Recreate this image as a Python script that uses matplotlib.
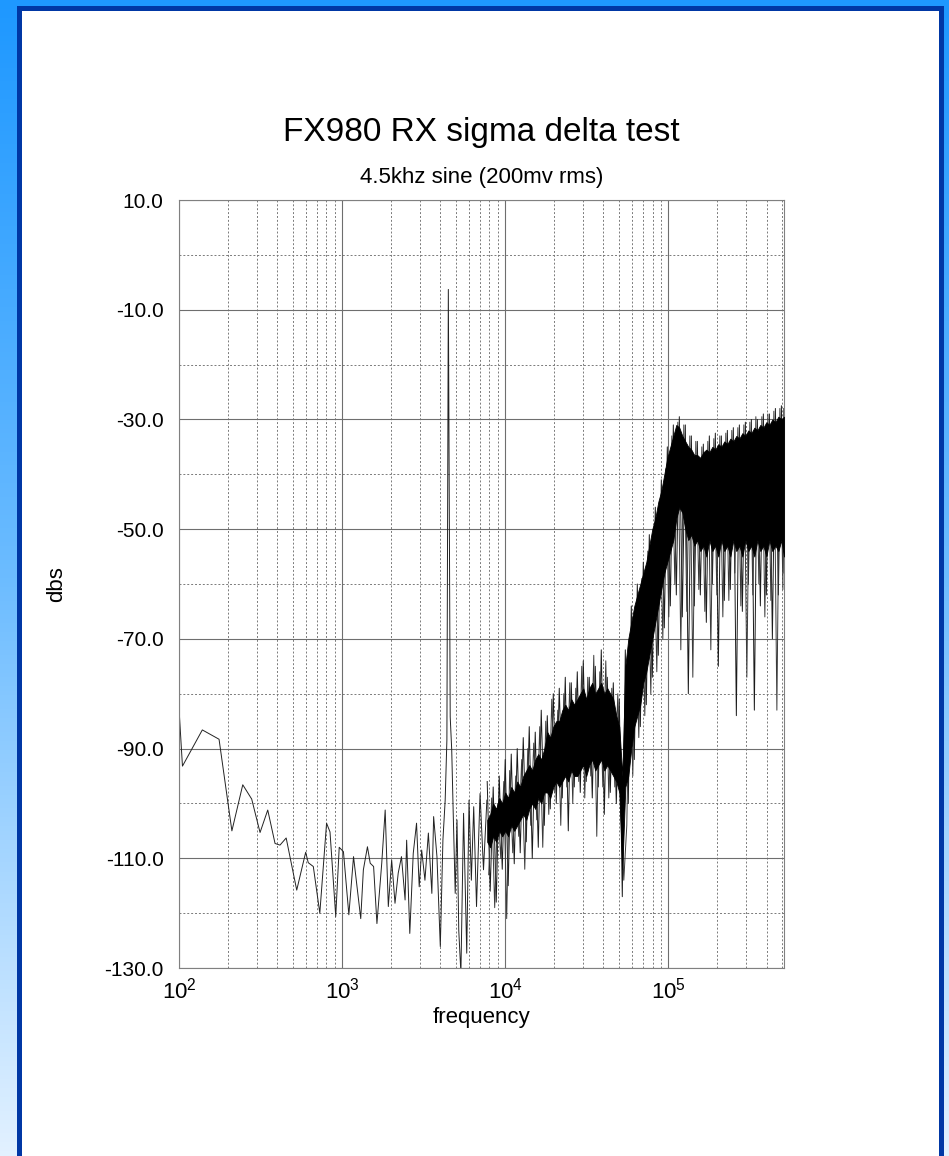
import numpy as np
import matplotlib
matplotlib.use("Agg")
import matplotlib.pyplot as plt
from matplotlib.colors import LinearSegmentedColormap
from matplotlib.patches import Rectangle
from matplotlib.ticker import FixedLocator, FormatStrFormatter, LogLocator, NullFormatter

plt.rcParams['font.family'] = ['Liberation Sans', 'DejaVu Sans']
plt.rcParams['mathtext.fontset'] = 'custom'
plt.rcParams['mathtext.rm'] = 'Liberation Sans'

title = "FX980 RX sigma delta test"
subtitle = "4.5khz sine (200mv rms)"

# resolved bins, 100 Hz .. 7.7 kHz (Hz, dB)
low_freq = [100, 105, 139, 176, 211, 246, 279, 314, 350, 388, 416, 454, 527, 598, 620,
            666, 730, 803, 843, 914, 960, 1019, 1100, 1175, 1301, 1350, 1430, 1487, 1560,
            1635, 1750, 1837, 1920, 2013, 2110, 2208, 2312, 2433, 2487, 2600, 2730, 2860,
            2970, 3075, 3220, 3380, 3550, 3640, 3815, 4000, 4150, 4285, 4390, 4480, 4600,
            4700, 4800, 4937, 5063, 5190, 5350, 5555, 5810, 6000, 6200, 6410, 6670, 7010,
            7360, 7720]
low_db = [-82.7, -93.2, -86.6, -88.3, -105.0, -96.6, -99.2, -105.3, -101.2, -107.3, -107.6,
          -106.3, -115.8, -108.9, -110.8, -111.5, -120.0, -103.6, -105.2, -120.6, -108.0,
          -108.8, -120.3, -109.7, -121.0, -112.1, -107.9, -110.9, -111.5, -121.9, -110.9,
          -101.2, -118.8, -110.3, -118.2, -112.7, -109.7, -117.6, -106.7, -123.7, -109.1,
          -103.6, -115.2, -108.5, -114.0, -105.4, -116.4, -102.4, -109.7, -126.1, -106.7,
          -99.4, -88.4, -6.3, -84.2, -90.3, -101.8, -116.4, -103.0, -123.1, -131.0, -101.8,
          -127.3, -99.4, -114.0, -100.6, -118.8, -98.2, -112.1, -99.4]

# dense part, 7.7 kHz .. 512 kHz
hi_freq = [7755, 8090, 8440, 8810, 9190, 9590, 10000, 10430, 10890, 11360,
           11850, 12360, 12900, 13460, 14040, 14650, 15280, 15950, 16630, 17360,
           18110, 18890, 19710, 20560, 21450, 22380, 23350, 24360, 25410, 26510,
           27660, 28850, 30100, 31400, 32760, 34180, 35660, 37210, 38820, 40500,
           42250, 44080, 45990, 47980, 50060, 52220, 54490, 56840, 59300, 61870,
           64550, 67340, 70250, 73290, 76460, 79770, 83220, 86830, 90590, 94510,
           98600, 102870, 107320, 111960, 116800, 121860, 127130, 132640, 138370, 144360,
           150610, 157130, 163930, 171020, 178420, 186140, 194200, 202600, 211400, 220500,
           230100, 240000, 250400, 261300, 272600, 284400, 296700, 309500, 322900, 336900,
           351500, 366700, 382500, 399100, 416400, 434500, 453300, 472900, 493500, 512000]

# solid core of the noise band (top / bottom edge)
band_top = [-103, -102, -100, -101, -99, -100, -98, -99, -97, -98,
            -96, -97, -95, -94, -93, -94, -92, -91, -92, -90,
            -87, -88, -86, -85, -85, -83, -82, -83, -81, -82,
            -81, -80, -79, -81, -79, -78, -80, -79, -78, -80,
            -79, -80, -81, -84, -86, -95, -75, -70, -67, -64,
            -62, -60, -58, -56, -53, -50, -48, -45, -43, -40,
            -37, -35, -33, -31, -31.5, -33, -34, -35, -35.5, -36.5,
            -36.5, -37, -36, -35.5, -36, -35, -35.5, -34.5, -35, -34,
            -34.5, -33.5, -34, -33, -33.5, -32.5, -33, -32, -32.5, -31.5,
            -32, -31, -31.5, -30.5, -31, -30, -30.5, -29.5, -30, -29.5]
band_bot = [-107, -108, -106, -107, -105, -106, -105, -106, -104, -105,
            -104, -103, -102, -103, -101, -100, -101, -99, -100, -98,
            -98, -99, -97, -96, -97, -96, -95, -96, -94, -95,
            -95, -94, -93, -95, -93, -92, -94, -93, -92, -94,
            -93, -94, -95, -96, -98, -112, -97, -95, -90, -86,
            -84, -82, -78, -76, -73, -70, -67, -64, -61, -58,
            -56, -54, -52, -48, -46, -47, -50, -52, -51, -53,
            -52, -54, -53, -55, -52, -54, -53, -55, -52, -54,
            -53, -55, -52, -54, -53, -55, -52, -54, -53, -55,
            -52, -54, -53, -55, -52, -54, -53, -54, -52, -55]

# peak / trough readings on the same bins
spike_a_db = [-96, -116, -97, -118, -95, -112, -92, -115, -91, -111,
              -90, -109, -88, -107, -86, -110, -87, -108, -83, -104,
              -84, -101, -80, -100, -79, -99, -77, -105, -78, -97,
              -76, -98, -74, -96, -77, -99, -75, -97, -72, -102,
              -77, -98, -78, -100, -81, -117, -72, -100, -64, -92,
              -60, -86, -56, -82, -51, -77, -46, -73, -41, -68,
              -35, -64, -31, -62, -29.5, -66, -31, -80, -33, -64,
              -34, -62, -34.5, -67, -33, -60, -32.5, -75, -33, -63,
              -32, -61, -31.5, -84, -31, -65, -30.5, -60, -30, -83,
              -30, -64, -29, -62, -29, -70, -28, -62, -27.5, -58]

# readings on the bins in between
mid_freq = [7920, 8260, 8620, 9000, 9390, 9800, 10210, 10650, 11120, 11600,
            12100, 12620, 13180, 13750, 14340, 14960, 15610, 16290, 16990, 17730,
            18500, 19290, 20130, 21000, 21910, 22860, 23850, 24880, 25950, 27080,
            28250, 29470, 30740, 32070, 33460, 34910, 36420, 38010, 39650, 41370,
            43150, 45020, 46970, 49010, 51130, 53340, 55650, 58060, 60570, 63190,
            65930, 68780, 71750, 74860, 78100, 81480, 85000, 88690, 92530, 96530,
            100710, 105070, 109620, 114360, 119300, 124470, 129850, 135480, 141330, 147450,
            153830, 160490, 167440, 174680, 182240, 190130, 198360, 206930, 215920, 225220,
            235020, 245140, 255760, 266890, 278430, 290480, 303050, 316120, 329810, 344110,
            359020, 374540, 390680, 407630, 425310, 443800, 463000, 483020, 504060, 510000]
spike_b_db = [-113, -99, -119, -100, -110, -96, -121, -94, -109, -95,
              -106, -92, -112, -90, -104, -89, -103, -86, -108, -85,
              -102, -81, -98, -83, -104, -80, -97, -78, -100, -79,
              -96, -75, -99, -77, -95, -73, -106, -76, -97, -74,
              -99, -79, -97, -80, -101, -114, -104, -70, -95, -66,
              -88, -59, -84, -54, -80, -50, -76, -45, -70, -39,
              -66, -33, -60, -30.5, -72, -31, -65, -33, -77, -34,
              -61, -35, -65, -34, -72, -33.5, -62, -33, -66, -32.5,
              -63, -32, -58, -31.5, -64, -31, -77, -30.5, -62, -29.5,
              -60, -29.5, -66, -29, -63, -28.5, -83, -28, -61, -28]

yticks_major = [10, -10, -30, -50, -70, -90, -110, -130]
yticks_minor = [0, -20, -40, -60, -80, -100, -120]

W, H = 949, 1156
fig = plt.figure(figsize=(W / 100, H / 100), dpi=100)

# background frame
bg = fig.add_axes([0, 0, 1, 1], zorder=-5)
bg.axis('off')
cmap = LinearSegmentedColormap.from_list('frame', ['#1e98ff', '#6cbcff', '#e2f1ff'])
bg.imshow(np.linspace(0, 1, 256)[:, None], aspect='auto', cmap=cmap, extent=[0, 1, 0, 1])
bg.add_patch(Rectangle((18.5 / W, -0.02), (941 - 18.5) / W, 1.02 - 7.5 / H,
                       facecolor='white', edgecolor='#0037a5', lw=3.6))
bg.set_xlim(0, 1)
bg.set_ylim(0, 1)

ax = fig.add_axes([179 / W, 1 - 968 / H, (784 - 179) / W, (968 - 200) / H])
ax.set_facecolor('none')
ax.plot(low_freq, low_db, color='#222222', lw=0.7, zorder=2)
ax.plot(hi_freq, spike_a_db, color='#1a1a1a', lw=0.7, zorder=2)
ax.plot(mid_freq, spike_b_db, color='#3a3a3a', lw=0.7, zorder=2)
ax.fill_between(hi_freq, band_bot, band_top, color='black', lw=0.6, zorder=3)

ax.set_xscale('log')
ax.set_xlim(100, 512000)
ax.set_ylim(-130, 10)
ax.xaxis.set_major_locator(LogLocator(base=10))
ax.xaxis.set_minor_locator(LogLocator(base=10, subs=np.arange(2, 10)))
ax.xaxis.set_minor_formatter(NullFormatter())
ax.yaxis.set_major_locator(FixedLocator(yticks_major))
ax.yaxis.set_minor_locator(FixedLocator(yticks_minor))
ax.yaxis.set_major_formatter(FormatStrFormatter('%.1f'))

ax.grid(which='major', color='#6e6e6e', lw=0.8, ls='-')
ax.grid(which='minor', color='#7a7a7a', lw=0.7, ls=(0, (2, 2)))
ax.tick_params(which='both', length=0)
ax.tick_params(axis='y', labelsize=15, pad=11)
ax.tick_params(axis='x', labelsize=16, pad=7)
for s in ax.spines.values():
    s.set_color('#808080')
    s.set_linewidth(0.8)

fig.text(481.5 / W, 1 - 132 / H, title, fontsize=24, ha='center', va='center')
fig.text(481.5 / W, 1 - 177 / H, subtitle, fontsize=16, ha='center', va='center')
fig.text(57 / W, 1 - 584 / H, "dbs", fontsize=16, rotation=90, ha='center', va='center')
fig.text(481.5 / W, 1 - 1018 / H, "frequency", fontsize=16, ha='center', va='center')

fig.savefig("out.png", dpi=100)
